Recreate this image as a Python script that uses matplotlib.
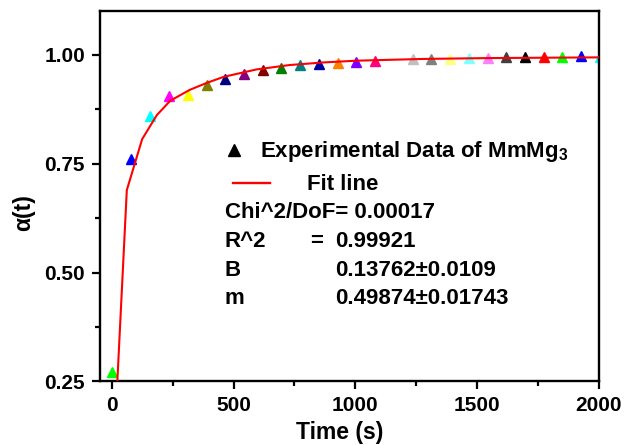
import matplotlib
matplotlib.use("Agg")
import matplotlib.pyplot as plt
from matplotlib.ticker import MultipleLocator

plt.rcParams["font.family"] = ["Liberation Sans", "DejaVu Sans"]
plt.rcParams["font.weight"] = "bold"
plt.rcParams["mathtext.fontset"] = "custom"
plt.rcParams["mathtext.rm"] = "Liberation Sans:bold"
plt.rcParams["mathtext.bf"] = "Liberation Sans:bold"
plt.rcParams["mathtext.default"] = "bf"

# experimental points: time (s) and transformed fraction alpha(t)
time_s = [3, 78, 157, 235, 312, 390, 465, 543, 619, 695, 773, 851, 927,
          1002, 1080, 1160, 1235, 1310, 1388, 1466, 1543, 1619, 1696, 1773,
          1848, 1926, 2003]
alpha = [0.271, 0.760, 0.859, 0.905, 0.907, 0.930, 0.944, 0.955, 0.964,
         0.969, 0.975, 0.979, 0.981, 0.983, 0.985, 0.987, 0.989, 0.990,
         0.991, 0.992, 0.993, 0.994, 0.994, 0.995, 0.995, 0.997, 0.995]
# one colour per point, cycling through the Origin colour list
point_colors = ["#00ff00", "#0000ff", "#00ffff", "#ff00ff", "#ffff00",
                "#808000", "#000080", "#800080", "#800000", "#008000",
                "#008080", "#0000a0", "#ff8000", "#8000ff", "#ff0080",
                "#ffffff", "#c0c0c0", "#808080", "#ffff80", "#80ffff",
                "#ff80ff", "#404040", "#000000", "#ff0000", "#00ff00",
                "#0000ff", "#00ffff"]

# fitted curve
fit_t = [0, 62, 125, 185, 240, 320, 390, 460, 595, 730, 870, 1005, 1280,
         1550, 2000]
fit_alpha = [-0.01, 0.689, 0.806, 0.861, 0.894, 0.919, 0.935, 0.949, 0.966,
             0.976, 0.982, 0.986, 0.990, 0.992, 0.9936]

stats = [("Chi^2/DoF= 0.00017", None),
         ("R^2", "0.99921"),
         ("B", "0.13762\u00b10.0109"),
         ("m", "0.49874\u00b10.01743")]

fig = plt.figure(figsize=(6.37, 4.45), dpi=100)
ax = fig.add_axes([0.157, 0.1427, 0.7833, 0.8326])

for t, a, c in zip(time_s, alpha, point_colors):
    ax.plot(t, a, marker="^", ms=7, color=c, mec=c, ls="none", zorder=2)
ax.plot(fit_t, fit_alpha, color="red", lw=1.5, zorder=3)

ax.set_xlim(-48, 2000)
ax.set_ylim(0.25, 1.10)
ax.xaxis.set_major_locator(MultipleLocator(500))
ax.xaxis.set_minor_locator(MultipleLocator(250))
ax.yaxis.set_major_locator(MultipleLocator(0.25))
ax.yaxis.set_minor_locator(MultipleLocator(0.125))
ax.yaxis.set_major_formatter(matplotlib.ticker.FormatStrFormatter("%.2f"))

for s in ax.spines.values():
    s.set_linewidth(1.7)
ax.tick_params(which="major", direction="out", length=5.8, width=1.6,
               labelsize=15, pad=5)
ax.tick_params(which="minor", direction="out", length=3.6, width=1.6)
for lab in ax.get_xticklabels() + ax.get_yticklabels():
    lab.set_fontweight("bold")

ax.set_xlabel("Time (s)", fontsize=16.5, fontweight="bold", va="center")
ax.xaxis.set_label_coords(0.481, -0.138)
ax.set_ylabel("\u03b1(t)", fontsize=16.5, fontweight="bold", va="center")
ax.yaxis.set_label_coords(-0.154, 0.455)

# legend keys and the fit report
fs = 16
tr = ax.transAxes
ax.plot([0.269], [0.625], marker="^", ms=8, color="black", transform=tr,
        clip_on=False)
ax.text(0.3206, 0.6068, "Experimental Data of MmMg$_3$", transform=tr,
        fontsize=fs, fontweight="bold", va="baseline")
ax.plot([0.2665, 0.3407], [0.5366, 0.5366], color="red", lw=1.7,
        transform=tr)
ax.text(0.4142, 0.5169, "Fit line", transform=tr, fontsize=fs,
        fontweight="bold", va="baseline")

rows_y = [0.4405, 0.3622, 0.2848, 0.2092]
for (name, val), y in zip(stats, rows_y):
    ax.text(0.2505, y, name, transform=tr, fontsize=fs, fontweight="bold",
            va="baseline")
    if val is not None:
        ax.text(0.4709, y, val, transform=tr, fontsize=fs,
                fontweight="bold", va="baseline")
ax.text(0.4208, rows_y[1], "=", transform=tr, fontsize=fs,
        fontweight="bold", va="baseline")

fig.savefig("out.png", dpi=100)
